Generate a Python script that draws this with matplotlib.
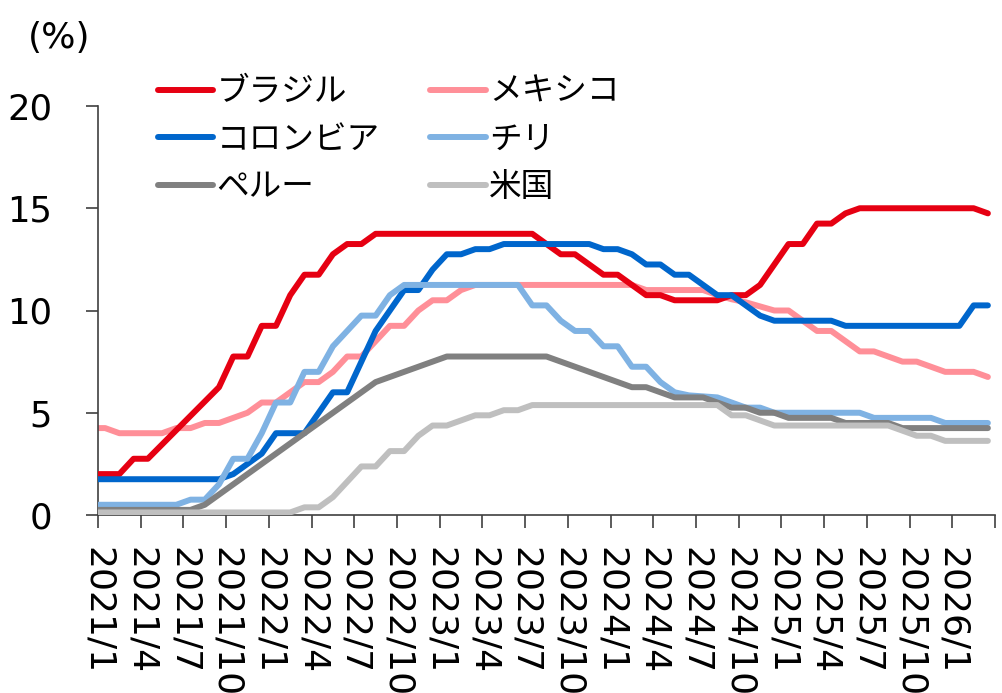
import numpy as np
import matplotlib
matplotlib.use("Agg")
import matplotlib.pyplot as plt

plt.rcParams["font.family"] = ["DejaVu Sans", "Noto Sans CJK JP"]

# Month-end policy rates (%), 2020/12 .. 2026/3
brazil = ([2.0]
          + [2.0, 2.0, 2.75, 2.75, 3.45, 4.15, 4.85, 5.55, 6.25, 7.75, 7.75, 9.25]
          + [9.25, 10.75, 11.75, 11.75, 12.75, 13.25, 13.25, 13.75, 13.75, 13.75, 13.75, 13.75]
          + [13.75] * 7 + [13.25, 12.75, 12.75, 12.25, 11.75]
          + [11.75, 11.25, 10.75, 10.75, 10.5, 10.5, 10.5, 10.5, 10.75, 10.75, 11.25, 12.25]
          + [13.25, 13.25, 14.25, 14.25, 14.75] + [15.0] * 7
          + [15.0, 15.0, 14.75])
mexico = ([4.25]
          + [4.25, 4.0, 4.0, 4.0, 4.0, 4.25, 4.25, 4.5, 4.5, 4.75, 5.0, 5.5]
          + [5.5, 6.0, 6.5, 6.5, 7.0, 7.75, 7.75, 8.5, 9.25, 9.25, 10.0, 10.5]
          + [10.5, 11.0] + [11.25] * 10
          + [11.25, 11.25, 11.0, 11.0, 11.0, 11.0, 11.0, 10.75, 10.55, 10.4, 10.2, 10.0]
          + [10.0, 9.5, 9.0, 9.0, 8.5, 8.0, 8.0, 7.75, 7.5, 7.5, 7.25, 7.0]
          + [7.0, 7.0, 6.75])
colombia = ([1.75]
            + [1.75] * 9 + [2.0, 2.5, 3.0]
            + [4.0, 4.0, 4.0, 5.0, 6.0, 6.0, 7.5, 9.0, 10.0, 11.0, 11.0, 12.0]
            + [12.75, 12.75, 13.0, 13.0] + [13.25] * 7 + [13.0]
            + [13.0, 12.75, 12.25, 12.25, 11.75, 11.75, 11.25, 10.75, 10.75, 10.25, 9.75, 9.5]
            + [9.5, 9.5, 9.5, 9.5] + [9.25] * 8
            + [9.25, 10.25, 10.25])
chile = ([0.5]
         + [0.5] * 6 + [0.75, 0.75, 1.5, 2.75, 2.75, 4.0]
         + [5.5, 5.5, 7.0, 7.0, 8.25, 9.0, 9.75, 9.75, 10.75, 11.25, 11.25, 11.25]
         + [11.25] * 6 + [10.25, 10.25, 9.5, 9.0, 9.0, 8.25]
         + [8.25, 7.25, 7.25, 6.5, 6.0, 5.85, 5.8, 5.75, 5.5, 5.25, 5.25, 5.0]
         + [5.0] * 6 + [4.75] * 5 + [4.5]
         + [4.5, 4.5, 4.5])
peru = ([0.25]
        + [0.25] * 7 + [0.5, 1.0, 1.5, 2.0, 2.5]
        + [3.0, 3.5, 4.0, 4.5, 5.0, 5.5, 6.0, 6.5, 6.75, 7.0, 7.25, 7.5]
        + [7.75] * 8 + [7.5, 7.25, 7.0, 6.75]
        + [6.5, 6.25, 6.25, 6.0, 5.75, 5.75, 5.75, 5.5, 5.25, 5.25, 5.0, 5.0]
        + [4.75] * 4 + [4.5] * 4 + [4.25] * 4
        + [4.25, 4.25, 4.25])
usa = ([0.125]
       + [0.125] * 12
       + [0.125, 0.125, 0.375, 0.375, 0.875, 1.625, 2.375, 2.375, 3.125, 3.125, 3.875, 4.375]
       + [4.375, 4.625, 4.875, 4.875, 5.125, 5.125] + [5.375] * 6
       + [5.375] * 8 + [4.875, 4.875, 4.625, 4.375]
       + [4.375] * 8 + [4.125, 3.875, 3.875, 3.625]
       + [3.625] * 3)

tick_labels = [f"{y}/{m}" for y in range(2021, 2027) for m in (1, 4, 7, 10)][:21]

series = [
    ("ブラジル", brazil, "#E60012", 3),
    ("メキシコ", mexico, "#FF8F98", 2),
    ("コロンビア", colombia, "#0066CC", 4),
    ("チリ", chile, "#7FB2E3", 5),
    ("ペルー", peru, "#808080", 6),
    ("米国", usa, "#BFBFBF", 7),
]

# points sit in the middle of each month, first one is 2020/12
x = np.arange(len(brazil)) - 0.5

fig = plt.figure(figsize=(10.02, 6.93), dpi=100)
ax = fig.add_axes([98 / 1002, 1 - 515 / 693, 897 / 1002, 409 / 693])

handles = []
for name, vals, col, z in series:
    ln, = ax.plot(x, vals, color=col, lw=4.3, label=name, zorder=z,
                  solid_joinstyle="round", solid_capstyle="round")
    handles.append(ln)

ax.set_xlim(0, 63)
ax.set_ylim(0, 20)
ax.set_yticks([0, 5, 10, 15, 20])
ax.set_xticks(np.arange(0, 64, 3))
ax.set_xticklabels(tick_labels + [""], rotation=270, ha="center", va="top")

for s in ("top", "right"):
    ax.spines[s].set_visible(False)
for s in ("left", "bottom"):
    ax.spines[s].set_color("#404040")
    ax.spines[s].set_linewidth(1.2)

ax.tick_params(axis="y", direction="out", length=9, width=1.2, color="#404040",
               labelsize=25.5, pad=24)
ax.tick_params(axis="x", direction="out", length=9, width=1.2, color="#404040",
               labelsize=26, pad=14)

fig.text(28 / 1002, 1 - 38 / 693, "(%)", fontsize=26, ha="left", va="center")

# legend fills row by row in the reference
order = [0, 2, 4, 1, 3, 5]
ax.legend([handles[i] for i in order], [series[i][0] for i in order],
          ncol=2, loc="upper left", bbox_to_anchor=(158 / 1002, 1 - 75 / 693),
          bbox_transform=fig.transFigure, frameon=False, fontsize=23.5,
          handlelength=1.7, handletextpad=0.1, columnspacing=1.55,
          labelspacing=0.45, borderpad=0, borderaxespad=0)

fig.savefig("out.png", dpi=100)
